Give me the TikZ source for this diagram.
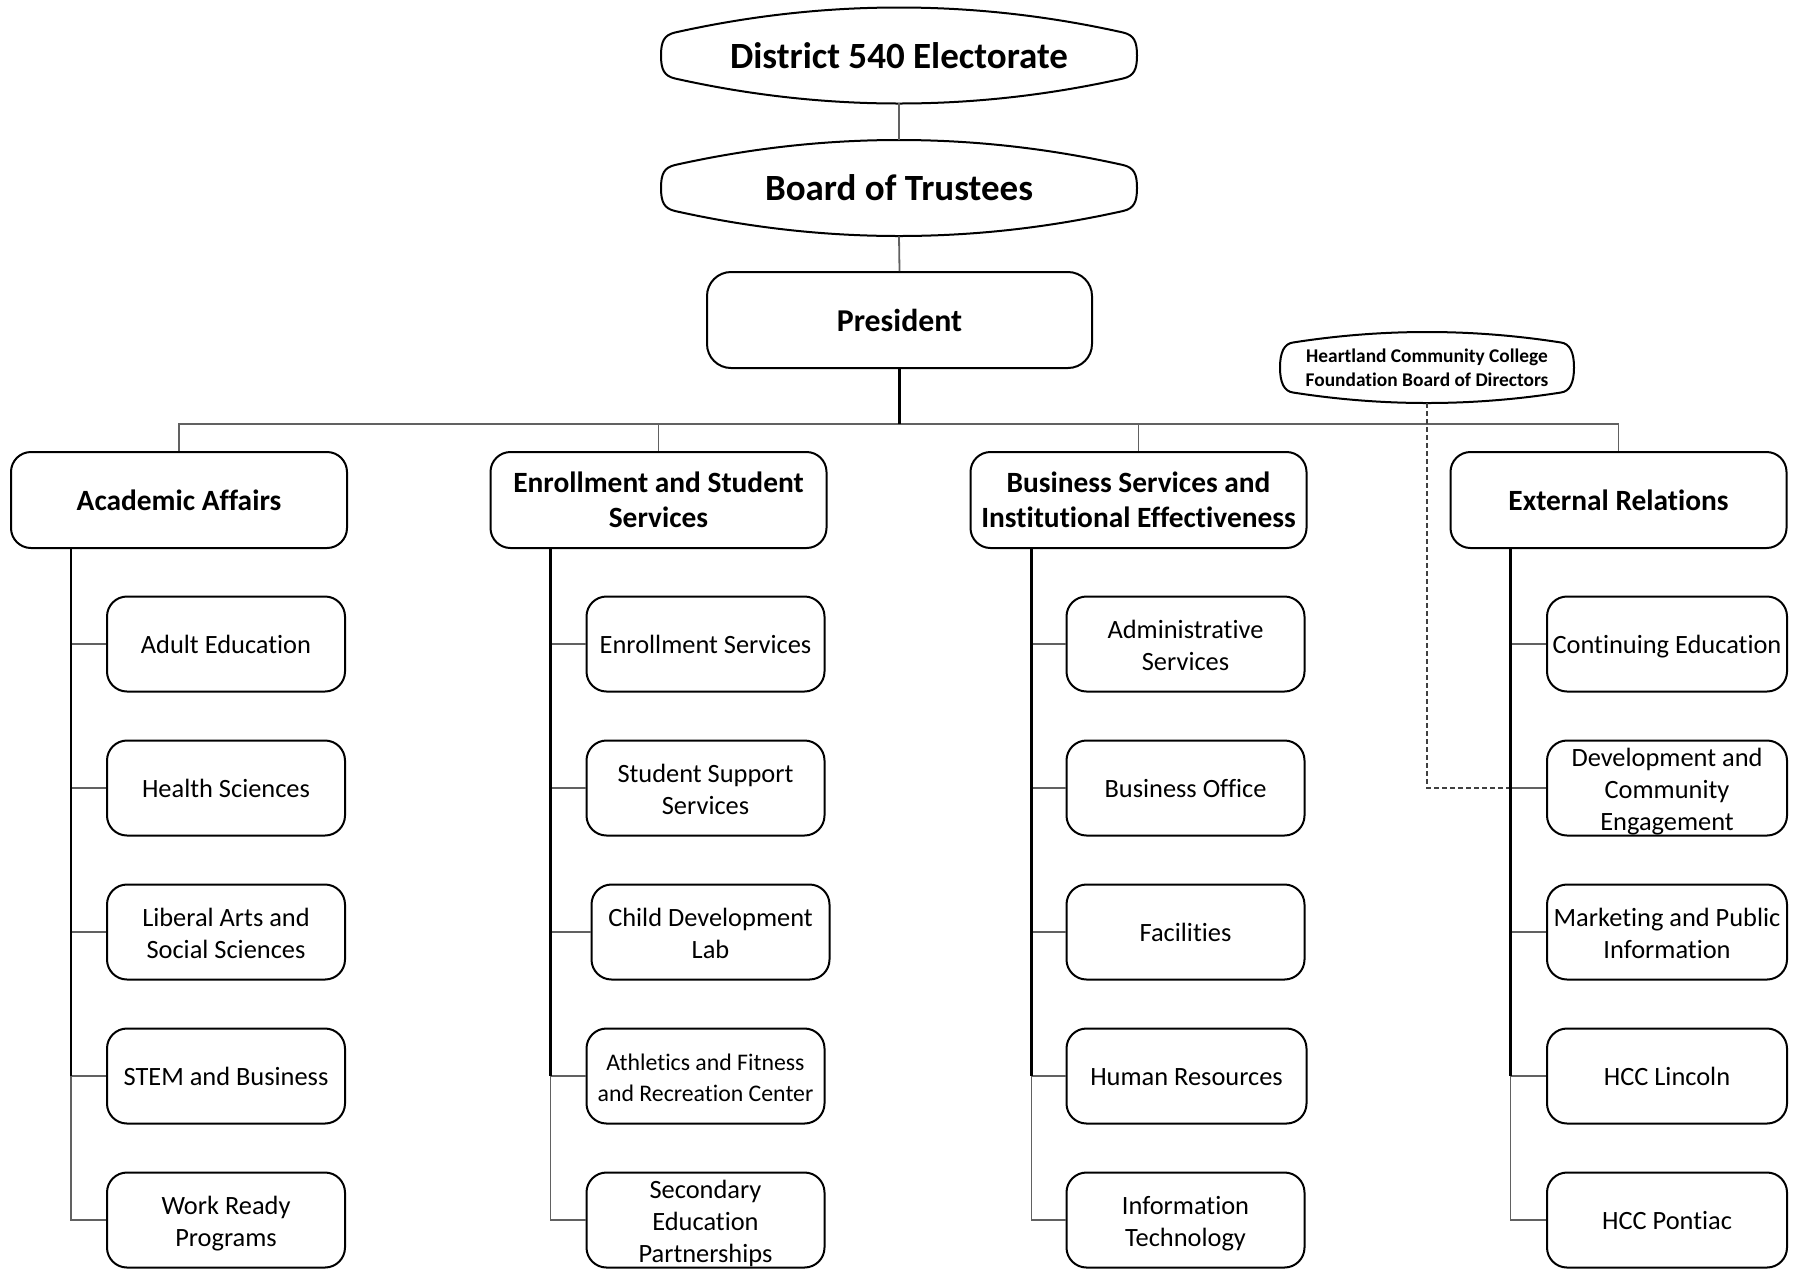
\documentclass[tikz,border=0pt]{standalone}
\usepackage{fontspec}
\setmainfont{Carlito}[Ligatures=NoCommon]
\newcommand\mytopstrut{\rule{0pt}{0.95em}}
\newcommand\mybotstrut{\rule[-0.25em]{0pt}{0pt}}
\newcommand\mlstrut[1]{\rule{0pt}{\dimexpr0.95em+#1\relax}}
\newcommand\mlb{\mlstrut{1.3pt}}
\begin{document}
\begin{tikzpicture}[x=0.5pt,y=-0.5pt,
  box/.style={draw=black, line width=1pt, rounded corners=10pt, minimum width=119pt, minimum height=47.5pt, inner sep=0pt, align=center, font=\fontsize{13.2}{16}\selectfont, execute at begin node=\mytopstrut, execute at end node=\mybotstrut},
  three/.style={inner ysep=-1.5pt},
  head/.style={box, minimum width=168pt, minimum height=48pt, font=\bfseries\fontsize{14.7}{17.5}\selectfont},
  lensnode/.style={inner sep=0pt, align=center},
  lensline/.style={draw=black, line width=1pt},
  conn/.style={draw=black!62, line width=0.9pt},
  trunk/.style={draw=black, line width=1.1pt},
  dconn/.style={draw=black!75, line width=0.6pt, dash pattern=on 2.5pt off 1.5pt},
]
\fill[white] (0,0) rectangle (1797,1270);
\useasboundingbox (0,0) rectangle (1797,1270);

% top lens shapes
\node[lensnode, minimum width=238pt, minimum height=47.5pt, font=\bfseries\fontsize{18.5}{22}\selectfont] (elect) at (899,55.5) {District 540 Electorate};
\node[lensnode, minimum width=238pt, minimum height=48pt, font=\bfseries\fontsize{18.5}{22}\selectfont] (board) at (899,188) {Board of Trustees};
\foreach \n in {elect,board}{
\draw[lensline, shift={(\n.center)}] (-238,0) .. controls (-238,-14) and (-235,-20.5) .. (-224,-23) .. controls (-149.3,-39.7) and (-74.7,-48) .. (0,-48) .. controls (74.7,-48) and (149.3,-39.7) .. (224,-23) .. controls (235,-20.5) and (238,-14) .. (238,0) .. controls (238,14) and (235,20.5) .. (224,23) .. controls (149.3,39.7) and (74.7,48) .. (0,48) .. controls (-74.7,48) and (-149.3,39.7) .. (-224,23) .. controls (-235,20.5) and (-238,14) .. cycle;
}
\node[box, rounded corners=12pt, minimum width=192.5pt, minimum height=48pt, font=\bfseries\fontsize{15.9}{19}\selectfont] (pres) at (899.5,320) {President};

\node[lensnode, minimum width=147pt, minimum height=35.5pt, font=\bfseries\fontsize{9.7}{12}\selectfont] (found) at (1427,367.5) {Heartland Community College\\Foundation Board of Directors};
\draw[lensline, shift={(found.center)}] (-147,0) .. controls (-147,-15) and (-143,-23.8) .. (-134,-25) .. controls (-89.3,-32) and (-44.7,-35.5) .. (0,-35.5) .. controls (44.7,-35.5) and (89.3,-32) .. (134,-25) .. controls (143,-23.8) and (147,-15) .. (147,0) .. controls (147,15) and (143,23.8) .. (134,25) .. controls (89.3,32) and (44.7,35.5) .. (0,35.5) .. controls (-44.7,35.5) and (-89.3,32) .. (-134,25) .. controls (-143,23.8) and (-147,15) .. cycle;

% level 2
\node[head] (acad) at (179,500) {Academic Affairs};
\node[head] (enrl) at (658.5,500) {\mytopstrut Enrollment and Student\\Services};
\node[head] (bsie) at (1138.5,500) {\mytopstrut Business Services and\\Institutional Effectiveness};
\node[head] (extr) at (1618.5,500) {External Relations};

% children
\node[box] (a1) at (226,644) {Adult Education};
\node[box] (a2) at (226,788) {Health Sciences};
\node[box] (a3) at (226,932) {\mlb Liberal Arts and\\Social Sciences};
\node[box] (a4) at (226,1076) {STEM and Business};
\node[box] (a5) at (226,1220) {\mlb Work Ready\\Programs};

\node[box] (b1) at (705.5,644) {Enrollment Services};
\node[box] (b2) at (705.5,788) {\mlb Student Support\\Services};
\node[box] (b3) at (710.5,932) {\mlb Child Development\\Lab};
\node[box, font=\fontsize{11.9}{15.5}\selectfont] (b4) at (705.5,1076) {\mlstrut{1.5pt}Athletics and Fitness\\and Recreation Center};
\node[box, three] (b5) at (705.5,1220) {\mlb Secondary\\Education\\Partnerships};

\node[box] (c1) at (1185.5,644) {\mlb Administrative\\Services};
\node[box] (c2) at (1185.5,788) {Business Office};
\node[box] (c3) at (1185.5,932) {Facilities};
\node[box, minimum width=120pt] (c4) at (1186.5,1076) {Human Resources};
\node[box] (c5) at (1185.5,1220) {\mlb Information\\Technology};

\node[box, minimum width=120pt] (d1) at (1667,644) {Continuing Education};
\node[box, three, minimum width=120pt] (d2) at (1667,788) {\mlb Development and\\Community\\Engagement};
\node[box, minimum width=120pt] (d3) at (1667,932) {\mlb Marketing and Public\\Information};
\node[box, minimum width=120pt] (d4) at (1667,1076) {HCC Lincoln};
\node[box, minimum width=120pt] (d5) at (1667,1220) {HCC Pontiac};

% connectors top
\draw[conn] (elect.south) -- (board.north);
\draw[conn] (board.south) -- (pres.north);
\coordinate (buspt) at ([yshift=-27.5pt]pres.south);
\draw[conn] (buspt) -| (acad.north);
\draw[conn] (buspt) -| (enrl.north);
\draw[conn] (buspt) -| (bsie.north);
\draw[conn] (buspt) -| (extr.north);
\draw[trunk] (pres.south) -- (buspt);

% dashed foundation link
\draw[dconn] (found.south) |- (d2.west);

% trunks and stubs
\coordinate (ta) at ([xshift=30.5pt]acad.south west);
\coordinate (tb) at ([xshift=30.5pt]enrl.south west);
\coordinate (tc) at ([xshift=31pt]bsie.south west);
\coordinate (td) at ([xshift=30.5pt]extr.south west);
\foreach \t/\p in {ta/a,tb/b,tc/c,td/d}{
  \foreach \i in {1,...,5}{\draw[conn] (\t) |- (\p\i.west);}
  \draw[trunk] (\t) -- (\t |- \p4.west);
}
\end{tikzpicture}
\end{document}
